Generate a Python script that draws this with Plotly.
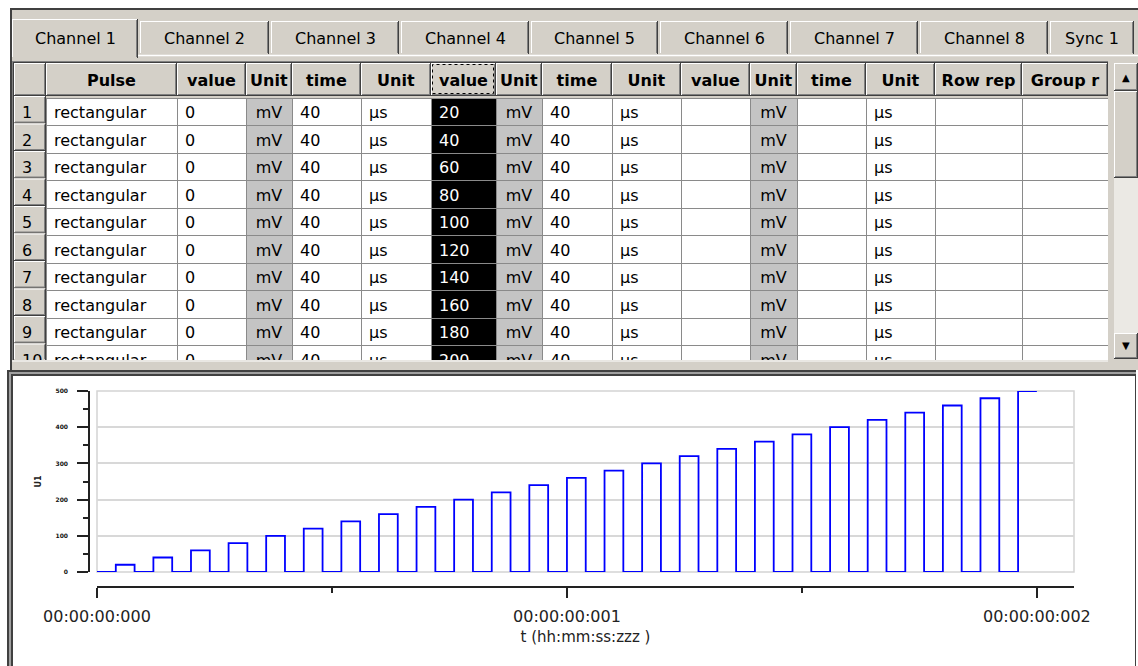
import plotly.graph_objects as go

W, H = 1138, 666

# ---------------- data ----------------
tab_names = ["Channel 1", "Channel 2", "Channel 3", "Channel 4", "Channel 5",
             "Channel 6", "Channel 7", "Channel 8", "Sync 1"]
column_headers = ["", "Pulse", "value", "Unit", "time", "Unit", "value", "Unit",
                  "time", "Unit", "value", "Unit", "time", "Unit", "Row\u00a0rep", "Group\u00a0r"]
row_numbers = ["1", "2", "3", "4", "5", "6", "7", "8", "9", "10", "11", "12", "13",
               "14", "15", "16", "17", "18", "19", "20", "21", "22", "23", "24", "25"]
pulse_shape = "rectangular"
seg1_values = [0, 0, 0, 0, 0, 0, 0, 0, 0, 0, 0, 0, 0, 0, 0, 0, 0, 0, 0, 0, 0, 0, 0, 0, 0]
seg1_times = [40, 40, 40, 40, 40, 40, 40, 40, 40, 40, 40, 40, 40, 40, 40, 40, 40, 40,
              40, 40, 40, 40, 40, 40, 40]
seg2_values = [20, 40, 60, 80, 100, 120, 140, 160, 180, 200, 220, 240, 260, 280, 300,
               320, 340, 360, 380, 400, 420, 440, 460, 480, 500]
seg2_times = [40, 40, 40, 40, 40, 40, 40, 40, 40, 40, 40, 40, 40, 40, 40, 40, 40, 40,
              40, 40, 40, 40, 40, 40, 40]
value_unit = "mV"
time_unit = "µs"
visible_rows = 10          # rows scrolled into view in the grid
x_tick_values_us = [0, 1000, 2000]
x_tick_labels = ["00:00:00:000", "00:00:00:001", "00:00:00:002"]
x_minor_ticks_us = [500, 1500]
y_tick_values = [0, 100, 200, 300, 400, 500]
y_minor_ticks = [50, 150, 250, 350, 450]

# ---------------- waveform from table rows ----------------
wave_t, wave_v = [], []
t = 0
for v1, d1, v2, d2 in zip(seg1_values, seg1_times, seg2_values, seg2_times):
    wave_t.append(t); wave_v.append(v1); t += d1
    wave_t.append(t); wave_v.append(v2); t += d2
wave_t.append(t); wave_v.append(seg2_values[-1])

# ---------------- helpers (pixel -> paper) ----------------
def fx(x):
    return x / W

def fy(y):
    return 1 - y / H

shapes = []

def R(x0, y0, x1, y1, fill=None, lc=None, lw=0, dash=None, layer="below"):
    d = dict(type="rect", xref="paper", yref="paper", x0=fx(x0), x1=fx(x1),
             y0=fy(y1), y1=fy(y0), layer=layer,
             line=dict(width=lw, color=lc or "rgba(0,0,0,0)"))
    if fill:
        d["fillcolor"] = fill
    if dash:
        d["line"]["dash"] = dash
    shapes.append(d)

def L(x0, y0, x1, y1, color, w, layer="below"):
    shapes.append(dict(type="line", xref="paper", yref="paper", x0=fx(x0), x1=fx(x1),
                       y0=fy(y0), y1=fy(y1), layer=layer, line=dict(color=color, width=w)))

FACE = "#d4d0c8"

def bevel(x0, y0, x1, y1, bottom=True):
    R(x0, y0, x1, y1, fill=FACE)
    L(x0, y0 + 0.5, x1 - 1, y0 + 0.5, "white", 1)
    L(x0 + 0.5, y0, x0 + 0.5, y1 - 1, "white", 1)
    L(x1 - 1.5, y0 + 1, x1 - 1.5, y1 - 1, "#808080", 1)
    L(x1 - 0.5, y0, x1 - 0.5, y1, "#404040", 1)
    if bottom:
        L(x0 + 1, y1 - 1.5, x1 - 1, y1 - 1.5, "#808080", 1)
        L(x0, y1 - 0.5, x1, y1 - 0.5, "#404040", 1)

# ---------------- window chrome ----------------
R(10, 8, 1138, 370, fill=FACE)
L(10, 9, 1138, 9, "#404040", 2)
L(11, 8, 11, 370, "#404040", 2)

tab_edges = [(12, 138), (140, 269), (271, 399), (401, 529), (531, 658),
             (660, 788), (790, 918), (920, 1048), (1050, 1134)]
for i, (a, b) in enumerate(tab_edges):
    if i > 0:
        bevel(a, 21, b, 54, bottom=False)
L(12, 55.5, 1138, 55.5, "white", 1.5)
bevel(tab_edges[0][0], 19, tab_edges[0][1], 58, bottom=False)

# table frame
col_widths = [32, 131, 69, 46, 69, 70, 65, 46, 70, 69, 69, 47, 69, 69, 87, 86]
table_left, table_top, header_h, row_h, table_bottom = 14, 63, 33, 27.5, 360
edges = [table_left]
for w in col_widths:
    edges.append(edges[-1] + w)
table_right = edges[-1]

L(12, 61.5, table_right, 61.5, "#808080", 1)
L(12.5, 61, 12.5, table_bottom, "#808080", 1)
L(13.5, 62.5, 13.5, table_bottom, "#404040", 1)
L(13, 62.5, table_right, 62.5, "#404040", 1)
L(12, 361, 1138, 361, "white", 1)

for i in range(len(col_widths)):
    bevel(edges[i], table_top, edges[i + 1], table_top + header_h)
# selected header cell focus rectangle
sel = 6
R(edges[sel] + 1.5, table_top + 1.5, edges[sel + 1] - 2.5, table_top + header_h - 2.5,
  lc="black", lw=1, dash="dot")

y = table_top + header_h
while y < table_bottom:
    y1 = min(y + row_h, table_bottom)
    bevel(edges[0], y, edges[1], y1, bottom=(y1 < table_bottom))
    y += row_h

# chart panel
R(7, 370, 1136, 670, fill="#404040")
R(9, 372, 1136, 670, fill="#a0a0a0")
R(11, 374, 1136, 670, fill="#404040")
R(13, 376, 1135, 670, fill="white")

# plot-area frame (chart)
shapes.append(dict(type="rect", xref="x domain", yref="y domain", x0=0, x1=1, y0=0, y1=1,
                   line=dict(color="#d4d4d4", width=1.5), layer="below"))

# ---------------- table trace (rows in view) ----------------
n = visible_rows
cells_values = [
    row_numbers[:n],
    [pulse_shape] * n,
    [str(v) for v in seg1_values[:n]],
    [value_unit] * n,
    [str(d) for d in seg1_times[:n]],
    [time_unit] * n,
    [str(v) for v in seg2_values[:n]],
    [value_unit] * n,
    [str(d) for d in seg2_times[:n]],
    [time_unit] * n,
    [""] * n,
    [value_unit] * n,
    [""] * n,
    [time_unit] * n,
    [""] * n,
    [""] * n,
]
GRAYCELL = "#c4c4c4"
fills = ["rgba(0,0,0,0)", "white", "white", GRAYCELL, "white", "white", "black", GRAYCELL,
         "white", "white", "white", GRAYCELL, "white", "white", "white", "white"]
font_colors = ["black"] * 16
font_colors[sel] = "white"
line_colors = ["rgba(0,0,0,0)"] + ["#8a8a8a"] * 15
aligns = ["left", "left", "left", "center", "left", "left", "left", "center",
          "left", "left", "left", "center", "left", "left", "left", "left"]

fig = go.Figure()
fig.add_trace(go.Table(
    domain=dict(x=[fx(table_left), fx(table_right)], y=[fy(table_bottom), fy(table_top)]),
    columnwidth=col_widths,
    header=dict(values=["<b>%s</b>" % h if h else "" for h in column_headers],
                fill=dict(color="rgba(0,0,0,0)"),
                line=dict(color="rgba(0,0,0,0)", width=0),
                align="center", height=header_h,
                font=dict(family="DejaVu Sans", size=16, color="black")),
    cells=dict(values=cells_values,
               fill=dict(color=fills),
               line=dict(color=line_colors, width=1),
               align=aligns, height=row_h,
               font=dict(family="DejaVu Sans", size=16, color=font_colors)),
))

# ---------------- waveform trace ----------------
fig.add_trace(go.Scatter(x=wave_t, y=wave_v, mode="lines",
                         line=dict(color="#0000ff", width=1.8, shape="hv"),
                         hoverinfo="skip", showlegend=False))

# ---------------- annotations ----------------
annotations = []
for name, (a, b) in zip(tab_names, tab_edges):
    annotations.append(dict(x=fx((a + b) / 2), y=fy(38), xref="paper", yref="paper",
                            text=name, showarrow=False, xanchor="center", yanchor="middle",
                            font=dict(family="DejaVu Sans", size=16, color="black")))

def box(x0, y0, x1, y1, color):
    annotations.append(dict(x=fx(x0), y=fy(y0), xref="paper", yref="paper",
                            xanchor="left", yanchor="top", width=x1 - x0, height=y1 - y0,
                            bgcolor=color, borderpad=0, borderwidth=0, text=" ",
                            showarrow=False, font=dict(size=1)))

def abevel(x0, y0, x1, y1):
    box(x0, y0, x1, y1, "#404040")
    box(x0, y0, x1 - 1, y1 - 1, "white")
    box(x0 + 1, y0 + 1, x1 - 1, y1 - 1, "#808080")
    box(x0 + 1, y0 + 1, x1 - 2, y1 - 2, FACE)

box(table_right, 60, 1138, 362, FACE)
abevel(1114, 63, 1138, 91)
abevel(1114, 91, 1138, 178)
box(1114, 178, 1138, 333, "#ebe9e4")
abevel(1114, 333, 1138, 359)
annotations.append(dict(x=fx(1126), y=fy(77), xref="paper", yref="paper", text="▲",
                        showarrow=False, xanchor="center", yanchor="middle",
                        font=dict(family="DejaVu Sans", size=10, color="black")))
annotations.append(dict(x=fx(1126), y=fy(346), xref="paper", yref="paper", text="▼",
                        showarrow=False, xanchor="center", yanchor="middle",
                        font=dict(family="DejaVu Sans", size=10, color="black")))

AX = "#222222"
fig.update_layout(
    width=W, height=H, autosize=False,
    margin=dict(l=0, r=0, t=0, b=0, autoexpand=False),
    paper_bgcolor="white", plot_bgcolor="rgba(0,0,0,0)",
    shapes=shapes, annotations=annotations, showlegend=False,
    font=dict(family="DejaVu Sans", color=AX),
    xaxis=dict(domain=[fx(97), fx(1074)], range=[0, 2079], anchor="free", position=fy(587),
               showline=True, linecolor=AX, linewidth=1.5, automargin=False,
               ticks="outside", ticklen=10, tickwidth=1.5, tickcolor=AX,
               tickmode="array", tickvals=x_tick_values_us, ticktext=x_tick_labels,
               tickfont=dict(family="DejaVu Sans", size=16, color=AX),
               ticklabelstandoff=5,
               minor=dict(tickmode="array", tickvals=x_minor_ticks_us, ticks="outside",
                          ticklen=5, tickwidth=1.5, tickcolor=AX, showgrid=False),
               showgrid=False, zeroline=False,
               title=dict(text="t (hh:mm:ss:zzz )", standoff=6,
                          font=dict(family="DejaVu Sans", size=15, color=AX))),
    yaxis=dict(domain=[fy(572), fy(391)], range=[0, 500], anchor="free", position=fx(89),
               showline=True, linecolor=AX, linewidth=1.5, automargin=False,
               ticks="outside", ticklen=11, tickwidth=1.5, tickcolor=AX,
               tickmode="array", tickvals=y_tick_values,
               tickfont=dict(family="DejaVu Sans", size=6, color="#111111", weight="bold"),
               ticklabelstandoff=8,
               minor=dict(tickmode="array", tickvals=y_minor_ticks, ticks="outside",
                          ticklen=5, tickwidth=1.5, tickcolor=AX, showgrid=False),
               showgrid=True, gridcolor="#d8d8d8", gridwidth=1.5, zeroline=False,
               title=dict(text="U1", standoff=12,
                          font=dict(family="DejaVu Sans", size=8, color=AX, weight="bold"))),
)

fig.write_html("out.html", config={"displayModeBar": False},
               post_script="document.body.style.margin='0px';"
                           "document.body.style.overflow='hidden';")
